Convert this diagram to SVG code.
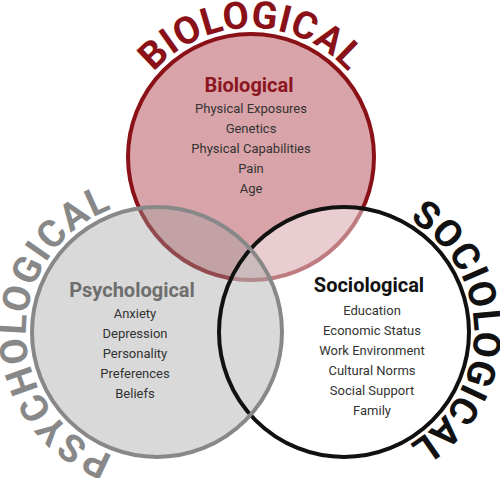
<svg xmlns="http://www.w3.org/2000/svg" width="500" height="478" viewBox="0 0 500 478">
<defs>
<style>
.ring{font-family:Roboto,"Liberation Sans",sans-serif;font-weight:bold;font-size:38px;text-anchor:middle}
.title{font-family:Roboto,"Liberation Sans",sans-serif;font-weight:bold;font-size:20px;text-anchor:middle}
.item{font-family:Roboto,"Liberation Sans",sans-serif;font-size:13px;fill:#333;text-anchor:middle}
</style>
<path id="arcBio" d="M 251 286 A 129 129 0 1 1 251 28 A 129 129 0 1 1 251 286"/>
<path id="arcPsy" d="M 288 332 A 131 131 0 1 1 26 332 A 131 131 0 1 1 288 332"/>
<path id="arcSoc" d="M 214 332 A 130 130 0 1 1 474 332 A 130 130 0 1 1 214 332"/>
</defs>
<rect width="500" height="478" fill="#fff"/>
<g id="biological">
<circle cx="251" cy="157" r="123" fill="#d9a4a9" stroke="#8b1118" stroke-width="4"/>
</g>
<g id="sociological-fill">
<circle cx="344" cy="332" r="125" fill="#fff" fill-opacity="0.45"/>
</g>
<g id="psychological-fill">
<circle cx="157" cy="332" r="125" fill="#a0a0a0" fill-opacity="0.4"/>
</g>
<g id="outlines">
<circle cx="344" cy="332" r="125" fill="none" stroke="#111" stroke-width="4"/>
<circle cx="157" cy="332" r="125" fill="none" stroke="#888" stroke-width="4"/>
</g>
<g id="ring-labels">
<text class="ring" fill="#8b1118" letter-spacing="0.5"><textPath href="#arcBio" startOffset="50%">BIOLOGICAL</textPath></text>
<text class="ring" fill="#888" letter-spacing="1.5"><textPath href="#arcPsy" startOffset="50%">PSYCHOLOGICAL</textPath></text>
<text class="ring" fill="#111" letter-spacing="0.5"><textPath href="#arcSoc" startOffset="50%">SOCIOLOGICAL</textPath></text>
</g>
<g id="bio-text">
<text class="title" x="249" y="92" fill="#8b1520">Biological</text>
<text class="item" x="251" y="113">Physical Exposures</text>
<text class="item" x="251" y="133">Genetics</text>
<text class="item" x="251" y="153">Physical Capabilities</text>
<text class="item" x="251" y="173">Pain</text>
<text class="item" x="251" y="193">Age</text>
</g>
<g id="psy-text">
<text class="title" x="132" y="297" fill="#6e6e6e">Psychological</text>
<text class="item" x="135" y="318">Anxiety</text>
<text class="item" x="135" y="338">Depression</text>
<text class="item" x="135" y="358">Personality</text>
<text class="item" x="135" y="378">Preferences</text>
<text class="item" x="135" y="398">Beliefs</text>
</g>
<g id="soc-text">
<text class="title" x="369" y="292" fill="#111">Sociological</text>
<text class="item" x="372" y="315">Education</text>
<text class="item" x="372" y="335">Economic Status</text>
<text class="item" x="372" y="355">Work Environment</text>
<text class="item" x="372" y="375">Cultural Norms</text>
<text class="item" x="372" y="395">Social Support</text>
<text class="item" x="372" y="415">Family</text>
</g>
</svg>
